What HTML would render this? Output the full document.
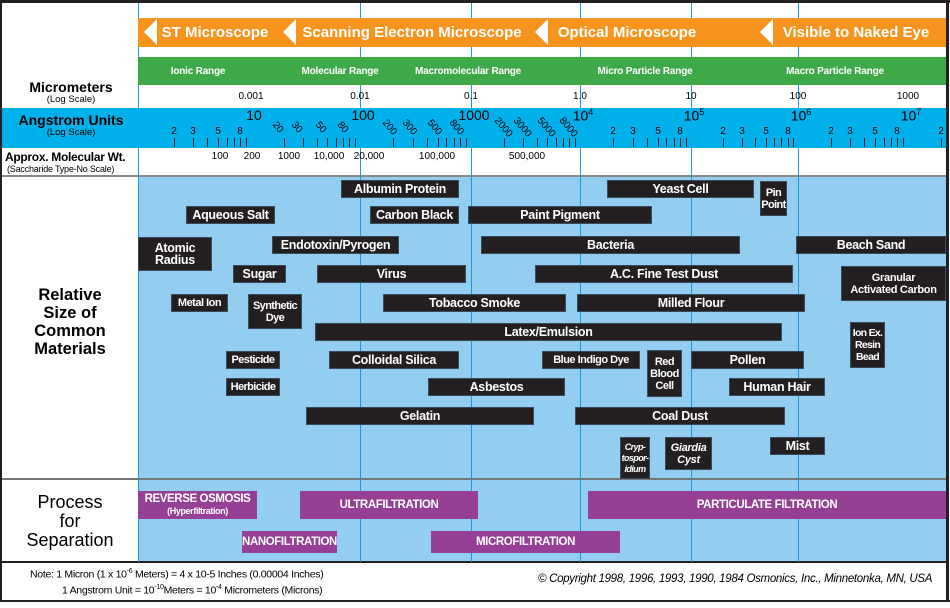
<!DOCTYPE html>
<html><head><meta charset="utf-8"><style>
*{margin:0;padding:0;box-sizing:border-box}
body{width:950px;height:608px;background:#fff;position:relative;overflow:hidden;font-family:"Liberation Sans",Arial,sans-serif}
.a{position:absolute}
.bar{position:absolute;background:#231f20;color:#fff;font-weight:bold;font-size:12.5px;display:flex;align-items:center;justify-content:center;text-align:center;line-height:12px;letter-spacing:-0.3px;border:1px solid #3a4a5a;white-space:nowrap}
.pb{position:absolute;background:#953f95;color:#fff;font-weight:bold;font-size:11.5px;display:flex;align-items:center;justify-content:center;text-align:center;line-height:12px;letter-spacing:-0.4px;flex-direction:column}
.v{position:absolute;width:1px;background:#1b9ad6}
.c{position:absolute;transform:translateX(-50%);white-space:nowrap}
.tri{position:absolute;width:0;height:0;border-top:13px solid transparent;border-bottom:13px solid transparent;border-right:13px solid #fff}
.ol{position:absolute;color:#fff;font-weight:bold;font-size:15px;top:24px;transform:translateX(-50%);white-space:nowrap}
.gl{position:absolute;color:#fff;font-weight:bold;font-size:10px;top:66px;transform:translateX(-50%);white-space:nowrap;letter-spacing:-0.2px}
</style></head><body>
<!-- frame -->
<div class="a" style="left:0;top:0;width:950px;height:3px;background:#231f20"></div>
<div class="a" style="left:0;top:0;width:2px;height:602px;background:#231f20"></div>
<div class="a" style="left:946px;top:0;width:3px;height:602px;background:#231f20"></div>
<div class="a" style="left:0;top:600px;width:950px;height:2px;background:#231f20"></div>
<!-- orange -->
<div class="a" style="left:138px;top:18px;width:808px;height:29px;background:#f7941d"></div>
<div class="tri" style="left:144px;top:19px"></div>
<div class="tri" style="left:283px;top:19px"></div>
<div class="tri" style="left:535px;top:19px"></div>
<div class="tri" style="left:760px;top:19px"></div>
<div class="ol" style="left:215px">ST Microscope</div>
<div class="ol" style="left:412px">Scanning Electron Microscope</div>
<div class="ol" style="left:627px">Optical Microscope</div>
<div class="ol" style="left:856px">Visible to Naked Eye</div>
<!-- green -->
<div class="a" style="left:138px;top:57px;width:808px;height:28px;background:#3fa94a"></div>
<div class="gl" style="left:198px">Ionic Range</div>
<div class="gl" style="left:340px">Molecular Range</div>
<div class="gl" style="left:468px">Macromolecular Range</div>
<div class="gl" style="left:645px">Micro Particle Range</div>
<div class="gl" style="left:835px">Macro Particle Range</div>
<!-- angstrom band -->
<div class="a" style="left:2px;top:108px;width:944px;height:40px;background:#00b0ea"></div>
<!-- separators -->
<div class="a" style="left:2px;top:175px;width:944px;height:2px;background:#888"></div>
<div class="a" style="left:2px;top:478px;width:944px;height:2px;background:#777"></div>
<div class="a" style="left:2px;top:561px;width:944px;height:2px;background:#231f20"></div>
<!-- light blue areas -->
<div class="a" style="left:138px;top:177px;width:808px;height:301px;background:#93cdf0"></div>
<div class="a" style="left:138px;top:480px;width:808px;height:81px;background:#93cdf0"></div>
<!-- left labels -->
<div class="c" style="left:71px;top:79px;font-weight:bold;font-size:14px">Micrometers</div>
<div class="c" style="left:71px;top:94px;font-size:9.5px">(Log Scale)</div>
<div class="c" style="left:71px;top:112px;font-weight:bold;font-size:14px">Angstrom Units</div>
<div class="c" style="left:71px;top:127px;font-size:9.5px">(Log Scale)</div>
<div class="a" style="left:5px;top:150px;font-weight:bold;font-size:12px;letter-spacing:-0.3px">Approx. Molecular Wt.</div>
<div class="a" style="left:7px;top:164px;font-size:9px;letter-spacing:-0.2px">(Saccharide Type-No Scale)</div>
<div class="a" style="left:0;top:286px;width:140px;text-align:center;font-weight:bold;font-size:16.5px;line-height:18px">Relative<br>Size of<br>Common<br>Materials</div>
<div class="a" style="left:0;top:493px;width:140px;text-align:center;font-size:18px;line-height:19px;font-weight:500">Process<br>for<br>Separation</div>
<div id="dyn"></div>
<!-- bars -->
<div class="bar" style="left:341px;top:180px;width:118px;height:18px">Albumin Protein</div>
<div class="bar" style="left:186px;top:206px;width:89px;height:18px">Aqueous Salt</div>
<div class="bar" style="left:370px;top:206px;width:89px;height:18px">Carbon Black</div>
<div class="bar" style="left:468px;top:206px;width:184px;height:18px">Paint Pigment</div>
<div class="bar" style="left:607px;top:180px;width:147px;height:18px">Yeast Cell</div>
<div class="bar" style="left:760px;top:181px;width:27px;height:35px;font-size:11px;letter-spacing:-0.6px">Pin<br>Point</div>
<div class="bar" style="left:138px;top:237px;width:74px;height:34px">Atomic<br>Radius</div>
<div class="bar" style="left:272px;top:236px;width:127px;height:18px">Endotoxin/Pyrogen</div>
<div class="bar" style="left:481px;top:236px;width:259px;height:18px">Bacteria</div>
<div class="bar" style="left:796px;top:236px;width:150px;height:18px">Beach Sand</div>
<div class="bar" style="left:233px;top:265px;width:53px;height:18px">Sugar</div>
<div class="bar" style="left:317px;top:265px;width:149px;height:18px">Virus</div>
<div class="bar" style="left:535px;top:265px;width:258px;height:18px">A.C. Fine Test Dust</div>
<div class="bar" style="left:841px;top:266px;width:105px;height:35px;font-size:11px">Granular<br>Activated Carbon</div>
<div class="bar" style="left:171px;top:294px;width:57px;height:18px;font-size:11px;letter-spacing:-0.5px">Metal Ion</div>
<div class="bar" style="left:248px;top:294px;width:54px;height:35px;font-size:11px;letter-spacing:-0.6px">Synthetic<br>Dye</div>
<div class="bar" style="left:383px;top:294px;width:183px;height:18px">Tobacco Smoke</div>
<div class="bar" style="left:577px;top:294px;width:228px;height:18px">Milled Flour</div>
<div class="bar" style="left:315px;top:323px;width:467px;height:18px">Latex/Emulsion</div>
<div class="bar" style="left:850px;top:322px;width:35px;height:46px;font-size:10.5px;letter-spacing:-0.7px">Ion Ex.<br>Resin<br>Bead</div>
<div class="bar" style="left:226px;top:351px;width:54px;height:18px;font-size:11px;letter-spacing:-0.6px">Pesticide</div>
<div class="bar" style="left:329px;top:351px;width:130px;height:18px">Colloidal Silica</div>
<div class="bar" style="left:542px;top:351px;width:98px;height:18px;font-size:11px;letter-spacing:-0.5px">Blue Indigo Dye</div>
<div class="bar" style="left:647px;top:350px;width:35px;height:47px;font-size:11px;letter-spacing:-0.5px">Red<br>Blood<br>Cell</div>
<div class="bar" style="left:691px;top:351px;width:113px;height:18px">Pollen</div>
<div class="bar" style="left:226px;top:378px;width:54px;height:18px;font-size:11px;letter-spacing:-0.6px">Herbicide</div>
<div class="bar" style="left:428px;top:378px;width:137px;height:18px">Asbestos</div>
<div class="bar" style="left:729px;top:378px;width:96px;height:18px">Human Hair</div>
<div class="bar" style="left:306px;top:407px;width:228px;height:18px">Gelatin</div>
<div class="bar" style="left:575px;top:407px;width:210px;height:18px">Coal Dust</div>
<div class="bar" style="left:620px;top:437px;width:30px;height:42px;font-size:9px;font-style:italic;line-height:11px;letter-spacing:-0.6px">Cryp-<br>tospor-<br>idium</div>
<div class="bar" style="left:665px;top:437px;width:47px;height:33px;font-size:11px;font-style:italic">Giardia<br>Cyst</div>
<div class="bar" style="left:770px;top:437px;width:55px;height:18px">Mist</div>
<!-- process -->
<div class="pb" style="left:138px;top:491px;width:119px;height:28px"><span>REVERSE OSMOSIS</span><span style="font-size:9px">(Hyperfiltration)</span></div>
<div class="pb" style="left:300px;top:491px;width:178px;height:28px">ULTRAFILTRATION</div>
<div class="pb" style="left:588px;top:491px;width:358px;height:28px">PARTICULATE FILTRATION</div>
<div class="pb" style="left:242px;top:531px;width:95px;height:22px">NANOFILTRATION</div>
<div class="pb" style="left:431px;top:531px;width:189px;height:22px">MICROFILTRATION</div>
<!-- notes -->
<div class="a" style="left:30px;top:568px;font-size:10.5px;letter-spacing:-0.3px">Note: 1 Micron (1 x 10<sup style="font-size:7px">-6</sup> Meters) = 4 x 10-5 Inches (0.00004 Inches)</div>
<div class="a" style="left:62px;top:584px;font-size:10.5px;letter-spacing:-0.3px">1 Angstrom Unit = 10<sup style="font-size:7px">-10</sup>Meters = 10<sup style="font-size:7px">-4</sup> Micrometers (Microns)</div>
<div class="a" style="left:538px;top:573px;font-size:11.5px;font-style:italic;letter-spacing:-0.3px">© Copyright 1998, 1996, 1993, 1990, 1984 Osmonics, Inc., Minnetonka, MN, USA</div>
<script>
var d=document.getElementById('dyn'),h='';
[138,360,471,580,691,798].forEach(function(x){
 [[3,15],[47,10],[85,23],[148,414]].forEach(function(s){
  h+='<div class="v" style="left:'+x+'px;top:'+s[0]+'px;height:'+s[1]+'px"></div>';});
 h+='<div class="v" style="left:'+x+'px;top:480px;height:81px"></div>';
});
var D=[141,251,360,471,580,691,798,908,1018];
var um=['0.001','0.01','0.1','1.0','10','100','1000'];
for(var i=0;i<7;i++){h+='<div class="c" style="left:'+D[i+1]+'px;top:91px;font-size:10px">'+um[i]+'</div>';}
var ang=['10','100','1000','10<sup style="font-size:9px">4</sup>','10<sup style="font-size:9px">5</sup>','10<sup style="font-size:9px">6</sup>','10<sup style="font-size:9px">7</sup>'];
for(var i=0;i<7;i++){h+='<div class="c" style="left:'+(D[i+1]+3)+'px;top:107px;font-size:14px">'+ang[i]+'</div>';}
var lab=[[2,3,5,8],[20,30,50,80],[200,300,500,800],[2000,3000,5000,8000]];
for(var i=0;i<8;i++){var w=D[i+1]-D[i];
 for(var k=2;k<=9;k++){var x=D[i]+Math.log10(k)*w; if(x>945)continue;
  h+='<div class="a" style="left:'+Math.round(x)+'px;top:138px;width:1px;height:9px;background:#231f20"></div>';
  if(k==2||k==3||k==5||k==8){
   if(i>=1&&i<=3){h+='<div class="a" style="left:'+(Math.round(x)-12)+'px;top:122px;font-size:10px;transform:rotate(50deg);transform-origin:center">'+lab[i][[2,3,5,8].indexOf(k)]+'</div>';}
   else h+='<div class="c" style="left:'+Math.round(x)+'px;top:126px;font-size:10px">'+k+'</div>';}
 }}
[[220,'100'],[252,'200'],[289,'1000'],[329,'10,000'],[369,'20,000'],[437,'100,000'],[527,'500,000']].forEach(function(p){h+='<div class="c" style="left:'+p[0]+'px;top:151px;font-size:10px">'+p[1]+'</div>';});
d.innerHTML=h;
</script>
</body></html>
